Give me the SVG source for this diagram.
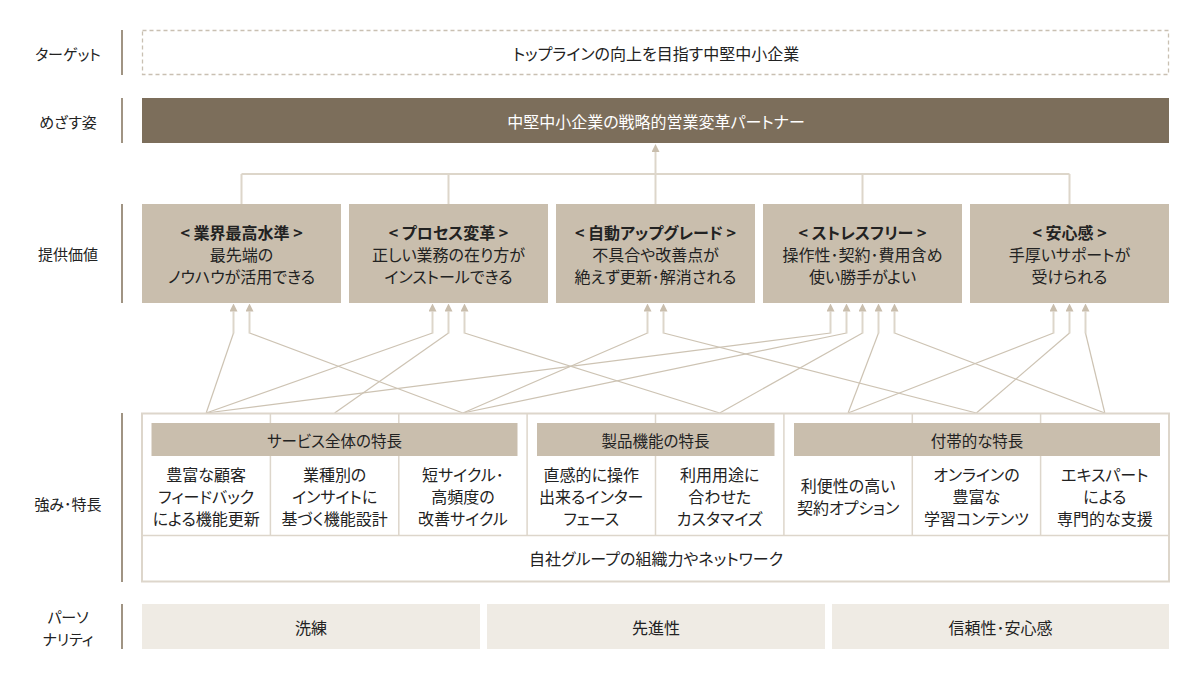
<svg xmlns="http://www.w3.org/2000/svg" width="1200" height="680" viewBox="0 0 1200 680">
<style>
text{font-family:"Noto Sans CJK JP","Noto Sans",sans-serif;font-size:16px;fill:#222;text-anchor:middle;dominant-baseline:central;font-feature-settings:"palt"}
.lbl{font-size:15px}
.ttl{font-weight:bold}
.gh{font-size:15.5px}
.wt{fill:#fff}
.bar{fill:#a09483}
.val{fill:#c9bead}
.hdr{fill:#c9bead}
.per{fill:#efebe4}
.div{stroke:#ddd6cb;stroke-width:1.5;fill:none}
.tree{stroke:#ddd6ca;stroke-width:2;fill:none}
.stem{stroke:#ddd6ca;stroke-width:2;fill:none}
.diag{stroke:#cdc3b3;stroke-width:1.2;fill:none}
</style>
<defs>
<marker id="ah" markerUnits="userSpaceOnUse" markerWidth="8" markerHeight="8" viewBox="0 0 8 8" refX="0" refY="4" orient="auto">
<path d="M0,0 L8,4 L0,8 z" fill="#c9bead"/>
</marker>
</defs>

<g id="labels">
<rect class="bar" x="121" y="30" width="2" height="45"/>
<text class="lbl" x="68" y="53">ターゲット</text>
<rect class="bar" x="121" y="98" width="2" height="45"/>
<text class="lbl" x="68" y="121">めざす姿</text>
<rect class="bar" x="121" y="204" width="2" height="99"/>
<text class="lbl" x="68" y="253">提供価値</text>
<rect class="bar" x="121" y="413" width="2" height="169"/>
<text class="lbl" x="68" y="503">強み･特長</text>
<rect class="bar" x="121" y="604" width="2" height="45"/>
<text class="lbl" x="68" y="616">パーソ</text>
<text class="lbl" x="68" y="638">ナリティ</text>
</g>

<g id="target">
<rect x="142.5" y="30.5" width="1026" height="44" fill="#fff" stroke="#c9c0b2" stroke-width="1.3" stroke-dasharray="4 3"/>
<text x="656" y="53">トップラインの向上を目指す中堅中小企業</text>
</g>

<g id="vision">
<rect x="142" y="98" width="1027" height="45" fill="#7c6e5b"/>
<text class="wt" x="656" y="121">中堅中小企業の戦略的営業変革パートナー</text>
</g>

<g id="connectors">
<path class="tree" d="M241.5,174 H1069.5 M241.5,174 V204 M448.5,174 V204 M862.5,174 V204 M1069.5,174 V204"/>
<line class="tree" x1="655.5" y1="204" x2="655.5" y2="152" marker-end="url(#ah)"/>
<g class="diags">
<path class="diag" d="M206.2,413 L233.5,333"/>
<path class="diag" d="M462.9,413 L249.5,333"/>
<path class="diag" d="M206.2,413 L432.5,333"/>
<path class="diag" d="M334.6,413 L448.5,333"/>
<path class="diag" d="M719.7,413 L464.5,333"/>
<path class="diag" d="M462.9,413 L647.5,333"/>
<path class="diag" d="M976.4,413 L663.5,333"/>
<path class="diag" d="M206.2,413 L830.5,333"/>
<path class="diag" d="M462.9,413 L846.5,333"/>
<path class="diag" d="M719.7,413 L862.5,333"/>
<path class="diag" d="M848.1,413 L878.5,333"/>
<path class="diag" d="M1104.8,413 L894.5,333"/>
<path class="diag" d="M848.1,413 L1053.5,333"/>
<path class="diag" d="M976.4,413 L1069.5,333"/>
<path class="diag" d="M1104.8,413 L1085.5,333"/>
</g>
<g class="stems">
<line class="stem" x1="233.5" y1="333.5" x2="233.5" y2="311.5" marker-end="url(#ah)"/>
<line class="stem" x1="249.5" y1="333.5" x2="249.5" y2="311.5" marker-end="url(#ah)"/>
<line class="stem" x1="432.5" y1="333.5" x2="432.5" y2="311.5" marker-end="url(#ah)"/>
<line class="stem" x1="448.5" y1="333.5" x2="448.5" y2="311.5" marker-end="url(#ah)"/>
<line class="stem" x1="464.5" y1="333.5" x2="464.5" y2="311.5" marker-end="url(#ah)"/>
<line class="stem" x1="647.5" y1="333.5" x2="647.5" y2="311.5" marker-end="url(#ah)"/>
<line class="stem" x1="663.5" y1="333.5" x2="663.5" y2="311.5" marker-end="url(#ah)"/>
<line class="stem" x1="830.5" y1="333.5" x2="830.5" y2="311.5" marker-end="url(#ah)"/>
<line class="stem" x1="846.5" y1="333.5" x2="846.5" y2="311.5" marker-end="url(#ah)"/>
<line class="stem" x1="862.5" y1="333.5" x2="862.5" y2="311.5" marker-end="url(#ah)"/>
<line class="stem" x1="878.5" y1="333.5" x2="878.5" y2="311.5" marker-end="url(#ah)"/>
<line class="stem" x1="894.5" y1="333.5" x2="894.5" y2="311.5" marker-end="url(#ah)"/>
<line class="stem" x1="1053.5" y1="333.5" x2="1053.5" y2="311.5" marker-end="url(#ah)"/>
<line class="stem" x1="1069.5" y1="333.5" x2="1069.5" y2="311.5" marker-end="url(#ah)"/>
<line class="stem" x1="1085.5" y1="333.5" x2="1085.5" y2="311.5" marker-end="url(#ah)"/>
</g>
</g>

<g id="value1">
<rect class="val" x="142" y="204" width="199" height="99"/>
<text class="ttl" x="241.5" y="232">&lt; 業界最高水準 &gt;</text>
<text x="241.5" y="254">最先端の</text>
<text x="241.5" y="276">ノウハウが活用できる</text>
</g>
<g id="value2">
<rect class="val" x="349" y="204" width="199" height="99"/>
<text class="ttl" x="448.5" y="232">&lt; プロセス変革 &gt;</text>
<text x="448.5" y="254">正しい業務の在り方が</text>
<text x="448.5" y="276">インストールできる</text>
</g>
<g id="value3">
<rect class="val" x="556" y="204" width="199" height="99"/>
<text class="ttl" x="655.5" y="232">&lt; 自動アップグレード &gt;</text>
<text x="655.5" y="254">不具合や改善点が</text>
<text x="655.5" y="276">絶えず更新･解消される</text>
</g>
<g id="value4">
<rect class="val" x="763" y="204" width="199" height="99"/>
<text class="ttl" x="862.5" y="232">&lt; ストレスフリー &gt;</text>
<text x="862.5" y="254">操作性･契約･費用含め</text>
<text x="862.5" y="276">使い勝手がよい</text>
</g>
<g id="value5">
<rect class="val" x="970" y="204" width="199" height="99"/>
<text class="ttl" x="1069.5" y="232">&lt; 安心感 &gt;</text>
<text x="1069.5" y="254">手厚いサポートが</text>
<text x="1069.5" y="276">受けられる</text>
</g>

<g id="strengths">
<rect x="142" y="413.5" width="1027" height="168" fill="#fff" stroke="#ddd6cb" stroke-width="2"/>
<path class="div" d="M270.4,413 V535 M398.8,413 V535 M527.1,413 V535 M655.5,413 V535 M783.9,413 V535 M912.3,413 V535 M1040.6,413 V535 M142,535.5 H1169"/>
<g id="group-service">
<rect class="hdr" x="151.5" y="423" width="366" height="33"/>
<text class="gh" x="334.5" y="440">サービス全体の特長</text>
</g>
<g id="group-product">
<rect class="hdr" x="537" y="423" width="237.5" height="33"/>
<text class="gh" x="655.5" y="440">製品機能の特長</text>
</g>
<g id="group-extra">
<rect class="hdr" x="794" y="423" width="366" height="33"/>
<text class="gh" x="977" y="440">付帯的な特長</text>
</g>
<g id="f1"><text x="206.2" y="474">豊富な顧客</text><text x="206.2" y="496">フィードバック</text><text x="206.2" y="518">による機能更新</text></g>
<g id="f2"><text x="334.6" y="474">業種別の</text><text x="334.6" y="496">インサイトに</text><text x="334.6" y="518">基づく機能設計</text></g>
<g id="f3"><text x="462.9" y="474">短サイクル･</text><text x="462.9" y="496">高頻度の</text><text x="462.9" y="518">改善サイクル</text></g>
<g id="f4"><text x="591.3" y="474">直感的に操作</text><text x="591.3" y="496">出来るインター</text><text x="591.3" y="518">フェース</text></g>
<g id="f5"><text x="719.7" y="474">利用用途に</text><text x="719.7" y="496">合わせた</text><text x="719.7" y="518">カスタマイズ</text></g>
<g id="f6"><text x="848.1" y="485">利便性の高い</text><text x="848.1" y="507">契約オプション</text></g>
<g id="f7"><text x="976.4" y="474">オンラインの</text><text x="976.4" y="496">豊富な</text><text x="976.4" y="518">学習コンテンツ</text></g>
<g id="f8"><text x="1104.8" y="474">エキスパート</text><text x="1104.8" y="496">による</text><text x="1104.8" y="518">専門的な支援</text></g>
<g id="network"><text x="656" y="558">自社グループの組織力やネットワーク</text></g>
</g>

<g id="persona1"><rect class="per" x="142" y="604" width="338" height="45"/><text x="311" y="627">洗練</text></g>
<g id="persona2"><rect class="per" x="487" y="604" width="338" height="45"/><text x="656" y="627">先進性</text></g>
<g id="persona3"><rect class="per" x="832" y="604" width="337" height="45"/><text x="1000.5" y="627">信頼性･安心感</text></g>
</svg>
